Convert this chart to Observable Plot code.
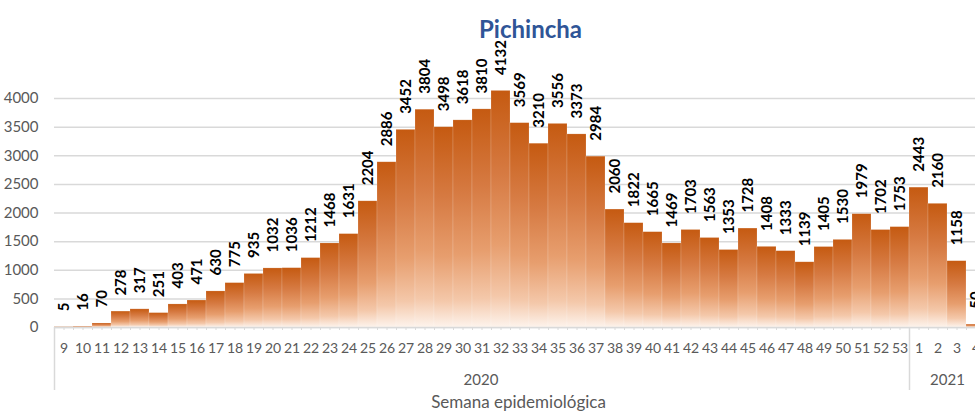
<!DOCTYPE html>
<html><head><meta charset="utf-8">
<script src="https://cdn.jsdelivr.net/npm/d3@7"></script>
<script src="https://cdn.jsdelivr.net/npm/@observablehq/plot@0.6"></script>
<style>
html,body{margin:0;padding:0;background:#fff;overflow:hidden}
#chart svg{overflow:hidden;display:block}
</style></head><body><div id="chart"></div>
<script>
const title = "Pichincha";
const xTitle = "Semana epidemiológica";
const years = ["2020", "2021"];
const weeks2020 = [9,10,11,12,13,14,15,16,17,18,19,20,21,22,23,24,25,26,27,28,29,30,31,32,33,34,35,36,37,38,39,40,41,42,43,44,45,46,47,48,49,50,51,52,53];
const cases2020 = [5,16,70,278,317,251,403,471,630,775,935,1032,1036,1212,1468,1631,2204,2886,3452,3804,3498,3618,3810,4132,3569,3210,3556,3373,2984,2060,1822,1665,1469,1703,1563,1353,1728,1408,1333,1139,1405,1530,1979,1702,1753];
const weeks2021 = [1,2,3,4];
const cases2021 = [2443,2160,1158,50];
const yTicks = [0,500,1000,1500,2000,2500,3000,3500,4000];

const rows = [
  ...weeks2020.map((w, i) => ({key: `${years[0]}-${w}`, week: w, year: years[0], value: cases2020[i]})),
  ...weeks2021.map((w, i) => ({key: `${years[1]}-${w}`, week: w, year: years[1], value: cases2021[i]}))
];
const keys = rows.map(d => d.key);
const weekOf = new Map(rows.map(d => [d.key, d.week]));

const grad = () => {
  const defs = d3.create("svg:defs");
  const g = defs.append("linearGradient").attr("id", "barGrad")
    .attr("x1", 0).attr("y1", 0).attr("x2", 0).attr("y2", 1);
  [[0, "#C55A11"], [0.35, "#D67A42"], [0.65, "#E79E6E"], [0.87, "#F4C8AA"], [1, "#FDF3EC"]]
    .forEach(([o, c]) => g.append("stop").attr("offset", o).attr("stop-color", c));
  return defs.node();
};

const gray = "#595959";
const lineGray = "#d9d9d9";

const chart = Plot.plot({
  width: 975,
  height: 419,
  marginLeft: 54,
  marginRight: -10,
  marginTop: 98,
  marginBottom: 92,
  style: {fontFamily: "Lato, sans-serif", background: "#fff", overflow: "hidden"},
  x: {type: "band", domain: keys, range: [54, 985], padding: 0},
  y: {domain: [0, 4000], range: [327, 98]},
  marks: [
    grad,
    Plot.gridY(yTicks, {stroke: lineGray, strokeOpacity: 1, strokeWidth: 1.5}),
    Plot.barY(rows, {x: "key", y: "value", fill: "url(#barGrad)", stroke: "#fff", strokeOpacity: 0.25, strokeWidth: 0.6}),
    Plot.ruleY([0], {stroke: lineGray, strokeWidth: 1.5}),
    Plot.ruleX(rows, {x: "key", y1: 0, y2: -52, stroke: lineGray, strokeWidth: 1}),
    Plot.ruleX(rows, {x: "key", y1: 0, y2: -52, dx: -9.5, stroke: lineGray, strokeWidth: 1}),
    Plot.ruleX([keys[0], `${years[1]}-${weeks2021[0]}`], {x: d => d, y1: 0, y2: -1100, dx: -9.5, stroke: lineGray, strokeWidth: 1.5}),
    Plot.axisY(yTicks, {tickSize: 0, tickPadding: 16, label: null, fill: gray, fontSize: 15, tickFormat: d => String(d)}),
    Plot.axisX({tickSize: 0, tickPadding: 16, label: null, fill: gray, fontSize: 14, tickFormat: k => weekOf.get(k)}),
    Plot.text(rows, {x: "key", y: "value", text: d => String(d.value), rotate: -90, textAnchor: "start", dy: -16, fontWeight: "bold", fontSize: 15, fill: "#000"}),
    Plot.text([years[0]], {x: () => `${years[0]}-31`, y: -926, text: d => d, dx: -1, fill: gray, fontSize: 15}),
    Plot.text([years[1]], {x: () => `${years[1]}-2`, y: -926, text: d => d, dx: 9.5, fill: gray, fontSize: 15}),
    Plot.text([title], {frameAnchor: "top", text: d => d, dy: -78, dx: 10.5, fill: "#2F5597", fontWeight: "bold", fontSize: 24}),
    Plot.text([xTitle], {frameAnchor: "bottom", text: d => d, dy: 80, dx: -1.5, fill: gray, fontSize: 17})
  ]
});
document.getElementById("chart").appendChild(chart);
</script></body></html>
